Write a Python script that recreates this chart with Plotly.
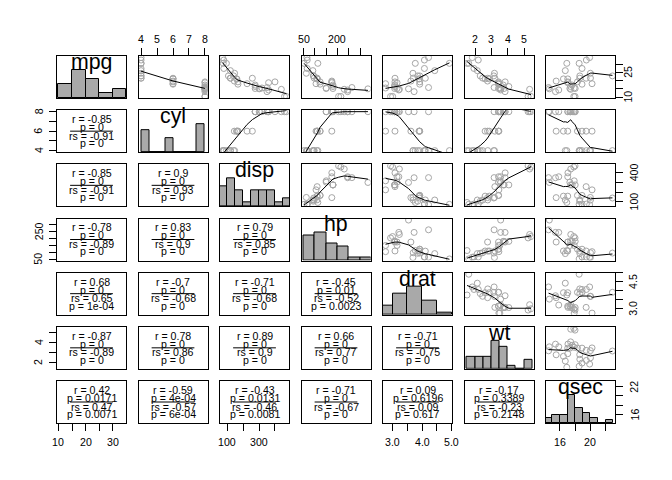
import numpy as np
import plotly.graph_objects as go

var_names = ["mpg", "cyl", "disp", "hp", "drat", "wt", "qsec"]

mpg = [21.0, 21.0, 22.8, 21.4, 18.7, 18.1, 14.3, 24.4, 22.8, 19.2, 17.8, 16.4, 17.3, 15.2, 10.4, 10.4,
       14.7, 32.4, 30.4, 33.9, 21.5, 15.5, 15.2, 13.3, 19.2, 27.3, 26.0, 30.4, 15.8, 19.7, 15.0, 21.4]
cyl = [6, 6, 4, 6, 8, 6, 8, 4, 4, 6, 6, 8, 8, 8, 8, 8, 8, 4, 4, 4, 4, 8, 8, 8, 8, 4, 4, 4, 8, 6, 8, 4]
disp = [160, 160, 108, 258, 360, 225, 360, 146.7, 140.8, 167.6, 167.6, 275.8, 275.8, 275.8, 472, 460,
        440, 78.7, 75.7, 71.1, 120.1, 318, 304, 350, 400, 79, 120.3, 95.1, 351, 145, 301, 121]
hp = [110, 110, 93, 110, 175, 105, 245, 62, 95, 123, 123, 180, 180, 180, 205, 215, 230, 66, 52, 65, 97,
      150, 150, 245, 175, 66, 91, 113, 264, 175, 335, 109]
drat = [3.90, 3.90, 3.85, 3.08, 3.15, 2.76, 3.21, 3.69, 3.92, 3.92, 3.92, 3.07, 3.07, 3.07, 2.93, 3.00,
        3.23, 4.08, 4.93, 4.22, 3.70, 2.76, 3.15, 3.73, 3.08, 4.08, 4.43, 3.77, 4.22, 3.62, 3.54, 4.11]
wt = [2.620, 2.875, 2.320, 3.215, 3.440, 3.460, 3.570, 3.190, 3.150, 3.440, 3.440, 4.070, 3.730, 3.780,
      5.250, 5.424, 5.345, 2.200, 1.615, 1.835, 2.465, 3.520, 3.435, 3.840, 3.845, 1.935, 2.140, 1.513,
      3.170, 2.770, 3.570, 2.780]
qsec = [16.46, 17.02, 18.61, 19.44, 17.02, 20.22, 15.84, 20.00, 22.90, 18.30, 18.90, 17.40, 17.60, 18.00,
        17.98, 17.82, 17.42, 19.47, 18.52, 19.90, 20.01, 17.87, 17.30, 15.41, 17.05, 18.90, 16.70, 16.90,
        14.50, 15.50, 14.60, 18.60]

# histogram bin width per variable
hist_unit = [5, 0.5, 50, 50, 0.5, 0.5, 1]

# tick positions and labels
tick_vals = [[10, 15, 20, 25, 30], [4, 5, 6, 7, 8], [100, 200, 300, 400], [50, 100, 150, 200, 250, 300],
             [3.0, 3.5, 4.0, 4.5, 5.0], [2, 3, 4, 5], [16, 18, 20, 22]]
tick_text_top = {1: ["4", "5", "6", "7", "8"], 3: ["50", "", "", "200", "", ""], 5: ["2", "3", "4", "5"]}
tick_text_bottom = {0: ["10", "", "20", "", "30"], 2: ["100", "", "300", ""],
                    4: ["3.0", "", "4.0", "", "5.0"], 6: ["16", "", "20", ""]}
tick_text_left = {1: ["4", "", "6", "", "8"], 3: ["50", "", "", "", "250", ""], 5: ["2", "", "4", ""]}
tick_text_right = {0: ["10", "", "", "25", ""], 2: ["100", "", "", "400"],
                   4: ["3.0", "", "", "4.5", ""], 6: ["16", "", "", "22"]}

# lower panel statistics (row, col) in row-major order of the lower triangle
cor_r = ["-0.85", "-0.85", "0.9", "-0.78", "0.83", "0.79", "0.68", "-0.7", "-0.71", "-0.45",
         "-0.87", "0.78", "0.89", "0.66", "-0.71", "0.42", "-0.59", "-0.43", "-0.71", "0.09", "-0.17"]
cor_p = ["0", "0", "0", "0", "0", "0", "0", "0", "0", "0.01",
         "0", "0", "0", "0", "0", "0.0171", "4e-04", "0.0131", "0", "0.6196", "0.3389"]
cor_rs = ["-0.91", "-0.91", "0.93", "-0.89", "0.9", "0.85", "0.65", "-0.68", "-0.68", "-0.52",
          "-0.89", "0.86", "0.9", "0.77", "-0.75", "0.47", "-0.57", "-0.46", "-0.67", "0.09", "-0.23"]
cor_ps = ["0", "0", "0", "0", "0", "0", "1e-04", "0", "0", "0.0023",
          "0", "0", "0", "0", "0", "0.0071", "6e-04", "0.0081", "0", "0.617", "0.2148"]

data = [mpg, cyl, disp, hp, drat, wt, qsec]
nv = len(data)


def r_lowess(xv, yv, f=2 / 3, nsteps=3):
    xv = np.asarray(xv, float)
    yv = np.asarray(yv, float)
    o = np.argsort(xv, kind="stable")
    xo = xv[o]
    yo = yv[o]
    n = len(xo)
    delta = 0.01 * (xo[-1] - xo[0])
    x = np.concatenate([[0.0], xo])
    y = np.concatenate([[0.0], yo])
    ys = np.zeros(n + 1)
    rw = np.ones(n + 1)
    ns = max(2, min(n, int(f * n + 1e-7)))

    def lowest(xs, nleft, nright, userw):
        rng = x[n] - x[1]
        h = max(xs - x[nleft], x[nright] - xs)
        h9 = 0.999 * h
        h1 = 0.001 * h
        a = 0.0
        w = np.zeros(n + 2)
        j = nleft
        while j <= n:
            w[j] = 0.0
            r = abs(x[j] - xs)
            if r <= h9:
                if r <= h1:
                    w[j] = 1.0
                else:
                    w[j] = (1 - (r / h) ** 3) ** 3
                if userw:
                    w[j] *= rw[j]
                a += w[j]
            elif x[j] > xs:
                break
            j += 1
        nrt = j - 1
        if a <= 0:
            return 0.0, False
        for j in range(nleft, nrt + 1):
            w[j] /= a
        if h > 0:
            a = sum(w[j] * x[j] for j in range(nleft, nrt + 1))
            b = xs - a
            c = sum(w[j] * (x[j] - a) ** 2 for j in range(nleft, nrt + 1))
            if np.sqrt(c) > 0.001 * rng:
                b /= c
                for j in range(nleft, nrt + 1):
                    w[j] *= (b * (x[j] - a) + 1.0)
        return sum(w[j] * y[j] for j in range(nleft, nrt + 1)), True

    it = 1
    while it <= nsteps + 1:
        nleft, nright, last, i = 1, ns, 0, 1
        while True:
            if nright < n:
                d1 = x[i] - x[nleft]
                d2 = x[nright + 1] - x[i]
                if d1 > d2:
                    nleft += 1
                    nright += 1
                    continue
            val, ok = lowest(x[i], nleft, nright, it > 1)
            ys[i] = val if ok else y[i]
            if last < i - 1:
                denom = x[i] - x[last]
                for j in range(last + 1, i):
                    alpha = (x[j] - x[last]) / denom
                    ys[j] = alpha * ys[i] + (1 - alpha) * ys[last]
            last = i
            cut = x[last] + delta
            i = last + 1
            while i <= n:
                if x[i] > cut:
                    break
                if x[i] == x[last]:
                    ys[i] = ys[last]
                    last = i
                i += 1
            i = max(last + 1, i - 1)
            if last >= n:
                break
        res = y[1:] - ys[1:]
        sc = np.mean(np.abs(res))
        if it > nsteps:
            break
        ar = np.abs(res)
        srt = np.sort(ar)
        m1 = n // 2
        if n % 2 == 0:
            cmad = 3 * (srt[m1] + srt[n - m1 - 1])
        else:
            cmad = 6 * srt[m1]
        if cmad < 1e-7 * sc:
            break
        c9, c1 = 0.999 * cmad, 0.001 * cmad
        for k in range(n):
            r = ar[k]
            if r <= c1:
                rw[k + 1] = 1.0
            elif r <= c9:
                rw[k + 1] = (1 - (r / cmad) ** 2) ** 2
            else:
                rw[k + 1] = 0.0
        it += 1
    return xo, ys[1:]


def ext(v):
    lo, hi = min(v), max(v)
    d = hi - lo
    return [lo - 0.04 * d, hi + 0.04 * d]


# the page body has an 8px default margin, so the figure is drawn 8px in
PAGE_OFF = 8
W, H = 672 - PAGE_OFF, 480 - PAGE_OFF
ML, MT = 57 - PAGE_OFF, 56 - PAGE_OFF
PW, PH = 558, 367
MR, MB = W - ML - PW, H - MT - PH
CW, RH = 69.0, 42.0
GX = (PW - nv * CW) / (nv - 1)
GY = (PH - nv * RH) / (nv - 1)

FONT = "Liberation Sans, Arial, Helvetica, sans-serif"
PT_COLOR = "#A6A6A6"
BAR_COLOR = "#A9A9A9"
TICK_FONT = dict(family=FONT, size=10.6, color="black")

fig = go.Figure()
layout = {}
annotations = []
shapes = []
lower_idx = 0


def axname(r, c):
    k = r * nv + c + 1
    return ("x" if k == 1 else f"x{k}"), ("y" if k == 1 else f"y{k}")


for r in range(nv):
    for c in range(nv):
        k = r * nv + c + 1
        xn, yn = axname(r, c)
        left = c * (CW + GX)
        top = r * (RH + GY)
        xdom = [left / PW, min(1.0, (left + CW) / PW)]
        ydom = [max(0.0, 1 - (top + RH) / PH), 1 - top / PH]
        xr = ext(data[c])
        yr = ext(data[r])
        common = dict(showgrid=False, zeroline=False, showline=True, linecolor="black", linewidth=1,
                      mirror=True, ticks="", showticklabels=False, fixedrange=True, automargin=False,
                      ticklen=7, tickwidth=1, tickcolor="black")
        xa = dict(common, domain=xdom, range=xr, anchor=yn)
        ya = dict(common, domain=ydom, range=yr, anchor=xn)
        if r == 0 and c in tick_text_top:
            xa.update(side="top", ticks="outside", tickmode="array", tickvals=tick_vals[c])
        if r == nv - 1 and c in tick_text_bottom:
            xa.update(side="bottom", ticks="outside", tickmode="array", tickvals=tick_vals[c])
        if c == 0 and r in tick_text_left:
            ya.update(side="left", ticks="outside", tickmode="array", tickvals=tick_vals[r])
        if c == nv - 1 and r in tick_text_right:
            ya.update(side="right", ticks="outside", tickmode="array", tickvals=tick_vals[r])
        layout["xaxis" if k == 1 else f"xaxis{k}"] = xa
        layout["yaxis" if k == 1 else f"yaxis{k}"] = ya

        if r == c:
            v = np.asarray(data[c], float)
            u = hist_unit[c]
            b0 = np.floor(v.min() / u) * u
            b1 = np.ceil(v.max() / u) * u
            nb = int(round((b1 - b0) / u))
            breaks = b0 + u * np.arange(nb + 1)
            counts = []
            for i in range(nb):
                lo, hi = breaks[i], breaks[i + 1]
                if i == 0:
                    counts.append(int(np.sum((v >= lo) & (v <= hi))))
                else:
                    counts.append(int(np.sum((v > lo) & (v <= hi))))
            counts = np.array(counts, float)
            frac = counts / counts.max() / 1.5
            span = yr[1] - yr[0]
            fig.add_trace(go.Bar(x=(breaks[:-1] + breaks[1:]) / 2, y=frac * span, base=yr[0],
                                 width=u, xaxis=xn, yaxis=yn,
                                 marker=dict(color=BAR_COLOR, line=dict(color="black", width=1)),
                                 showlegend=False, hoverinfo="skip"))
            annotations.append(dict(text=var_names[c], xref=f"{xn} domain", yref=f"{yn} domain",
                                    x=0.5, y=0.86, xanchor="center", yanchor="middle",
                                    showarrow=False, font=dict(family=FONT, size=21.3, color="black")))
        elif c > r:
            fig.add_trace(go.Scatter(x=data[c], y=data[r], mode="markers", xaxis=xn, yaxis=yn,
                                     marker=dict(symbol="circle-open", size=6, color=PT_COLOR,
                                                 line=dict(width=1, color=PT_COLOR)),
                                     showlegend=False, hoverinfo="skip"))
            lx, ly = r_lowess(data[c], data[r])
            fig.add_trace(go.Scatter(x=lx, y=ly, mode="lines", xaxis=xn, yaxis=yn,
                                     line=dict(color="black", width=1),
                                     showlegend=False, hoverinfo="skip"))
        else:
            # invisible trace so that the panel (and its axes) is created
            fig.add_trace(go.Scatter(x=data[c], y=data[r], mode="markers", xaxis=xn, yaxis=yn,
                                     marker=dict(size=1, opacity=0), showlegend=False,
                                     hoverinfo="skip"))
            lines = [f"r = {cor_r[lower_idx]}", f"p = {cor_p[lower_idx]}",
                     f"rs = {cor_rs[lower_idx]}", f"p = {cor_ps[lower_idx]}"]
            shifts = [12, 4, -4.5, -12]
            for t, s in zip(lines, shifts):
                annotations.append(dict(text=t, xref=f"{xn} domain", yref=f"{yn} domain",
                                        x=0.5, y=0.5, yshift=s, xanchor="center", yanchor="middle",
                                        showarrow=False,
                                        font=dict(family=FONT, size=10.6, color="black")))
            shapes.append(dict(type="line", xref=f"{xn} domain", yref=f"{yn} domain",
                               x0=0.19, x1=0.81, y0=0.5, y1=0.5,
                               line=dict(color="black", width=1)))
            lower_idx += 1

# tick labels placed outside the outer panels
for c, texts in tick_text_top.items():
    xn, _ = axname(0, c)
    for val, t in zip(tick_vals[c], texts):
        if t:
            annotations.append(dict(text=t, x=val, xref=xn, y=1, yref="paper", yshift=16.7,
                                    xanchor="center", yanchor="middle", showarrow=False, font=TICK_FONT))
for c, texts in tick_text_bottom.items():
    xn, _ = axname(nv - 1, c)
    for val, t in zip(tick_vals[c], texts):
        if t:
            annotations.append(dict(text=t, x=val, xref=xn, y=0, yref="paper", yshift=-18.7,
                                    xanchor="center", yanchor="middle", showarrow=False, font=TICK_FONT))
for r, texts in tick_text_left.items():
    _, yn = axname(r, 0)
    for val, t in zip(tick_vals[r], texts):
        if t:
            annotations.append(dict(text=t, y=val, yref=yn, x=0, xref="paper", xshift=-18.5,
                                    textangle=-90, xanchor="center", yanchor="middle",
                                    showarrow=False, font=TICK_FONT))
right_shift = {0: 13.5, 2: 18.5, 4: 18, 6: 19}
for r, texts in tick_text_right.items():
    _, yn = axname(r, nv - 1)
    for val, t in zip(tick_vals[r], texts):
        if t:
            annotations.append(dict(text=t, y=val, yref=yn, x=1, xref="paper", xshift=right_shift[r],
                                    textangle=-90, xanchor="center", yanchor="middle",
                                    showarrow=False, font=TICK_FONT))

fig.update_layout(**layout)
fig.update_layout(width=W, height=H, margin=dict(l=ML, r=MR, t=MT, b=MB, pad=0, autoexpand=False),
                  paper_bgcolor="white", plot_bgcolor="white", showlegend=False,
                  annotations=annotations, shapes=shapes, bargap=0,
                  font=dict(family=FONT, size=10.6, color="black"))

fig.write_html("out.html")
